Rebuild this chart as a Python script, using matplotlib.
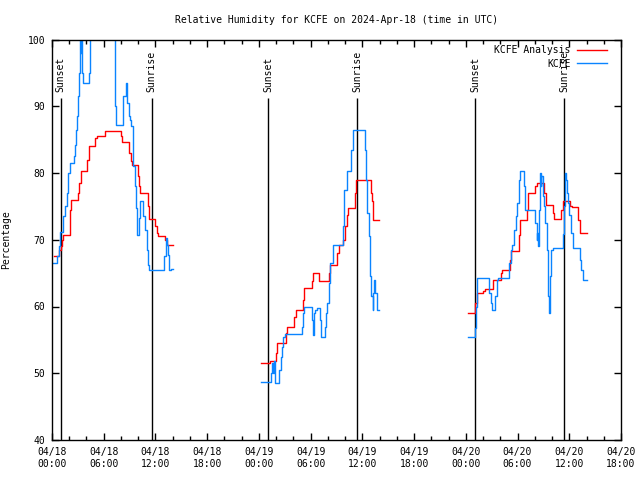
# Relative humidity for KCFE, analysis vs observations (step lines)
import numpy as np
import matplotlib
matplotlib.use('Agg')
import matplotlib.pyplot as plt
from matplotlib.ticker import MultipleLocator

plt.rcParams['font.family'] = ['DejaVu Sans Mono']
plt.rcParams['font.size'] = 7

# hours after 04/18 00:00 UTC
anal_t1 = [0.2, 0.85, 1.01, 1.16, 1.31, 2.09, 2.24, 3.02, 3.17, 3.33, 4.10, 4.25, 5.03, 5.18,
           6.15, 7.97, 8.10, 8.97, 9.13, 9.28, 10.01, 10.13, 10.25, 10.98, 11.1, 11.29,
           11.95, 12.14, 12.34, 12.9, 13.1, 13.3, 14.0]
anal_v1 = [67.6, 68.4, 69.0, 70.0, 70.75, 74.5, 76.0, 77.0, 78.5, 80.25, 82.0, 84.1, 85.25, 85.5,
           86.3, 85.5, 84.6, 83.0, 81.75, 81.25, 79.5, 78.0, 77.0, 77.0, 75.0, 73.1,
           72.0, 71.0, 70.6, 70.6, 70.0, 69.25, 69.25]
# observations above 100 run off the top of the chart
obs_t1 = [0.1, 0.62, 0.85, 0.93, 1.31, 1.51, 1.7, 1.8, 1.9, 2.09, 2.55, 2.63, 2.78, 2.86, 3.02,
          3.09, 3.25, 3.33, 3.4, 3.48, 3.56, 4.33, 4.41, 7.3, 7.45, 8.2, 8.28, 8.59, 8.74,
          8.9, 9.05, 9.2, 9.35, 9.45, 9.59, 9.71, 9.82, 9.9, 10.05, 10.21, 10.59, 10.79,
          10.98, 11.17, 11.29, 13.03, 13.19, 13.3, 13.46, 13.61, 13.77, 14.0]
obs_v1 = [66.5, 67.6, 69.0, 71.1, 73.5, 75.0, 77.0, 79.0, 80.0, 81.5, 82.5, 84.25, 86.5, 88.5, 91.5,
          95.0, 102.0, 98.0, 102.0, 95.0, 93.5, 95.0, 102.0, 90.0, 87.25, 87.25, 91.5, 93.5, 90.5,
          88.5, 88.0, 87.0, 84.0, 81.0, 78.0, 74.8, 71.5, 70.75, 73.3, 75.75, 73.5, 71.5,
          68.5, 66.25, 65.5, 67.5, 70.3, 69.25, 67.75, 65.5, 65.6, 65.6]

anal_t2 = [24.25, 25.29, 26.0, 26.14, 27.15, 27.3, 28.11, 28.3, 29.08, 29.23, 30.12, 30.32,
           31.01, 32.1, 32.25, 33.1, 33.26, 33.8, 34.0, 34.18, 34.38, 35.11, 35.27, 36.97,
           37.12, 37.28, 37.97]
anal_v2 = [51.5, 51.9, 53.0, 54.5, 56.0, 57.0, 58.5, 59.5, 61.0, 62.75, 63.75, 65.0,
           63.75, 65.0, 66.25, 68.0, 69.25, 70.0, 72.0, 73.75, 74.75, 77.0, 79.0, 77.0,
           75.75, 73.0, 73.0]
obs_t2 = [24.25, 25.37, 25.52, 25.6, 25.75, 25.9, 26.37, 26.53, 26.68, 26.84, 27.0, 28.96,
          29.08, 29.23, 30.12, 30.24, 30.34, 30.43, 30.55, 30.7, 31.09, 31.21, 31.67, 31.79,
          31.94, 32.1, 32.25, 32.56, 33.72, 33.87, 34.18, 34.72, 34.95, 36.31, 36.43, 36.58,
          36.74, 36.89, 37.05, 37.2, 37.28, 37.39, 37.51, 37.66, 37.74, 37.9, 37.97]
obs_v2 = [48.65, 50.0, 51.5, 50.0, 51.8, 48.5, 50.5, 52.5, 54.0, 55.5, 55.85, 57.0,
          59.0, 60.0, 58.0, 55.75, 58.0, 59.0, 59.5, 59.75, 58.0, 55.5, 57.0, 59.0,
          60.5, 63.5, 66.5, 69.25, 72.0, 77.5, 80.35, 83.5, 86.5, 83.5, 79.0, 74.0,
          70.5, 64.5, 61.5, 59.5, 62.0, 64.0, 62.0, 60.5, 59.5, 59.5, 59.5]

anal_t3 = [48.3, 49.07, 49.27, 49.96, 50.23, 51.12, 52.09, 52.24, 53.13, 53.25, 54.14, 54.29,
           55.07, 55.26, 56.07, 56.3, 57.11, 57.31, 58.08, 58.27, 59.09, 59.32, 60.09, 60.29,
           61.06, 61.25, 62.03]
anal_v3 = [59.0, 60.5, 62.0, 62.3, 62.6, 64.0, 65.0, 65.5, 67.0, 68.35, 70.75, 73.0,
           74.5, 77.0, 78.0, 78.5, 77.0, 75.25, 74.0, 73.15, 74.5, 75.8, 75.0, 74.85,
           73.0, 71.0, 71.0]
obs_t3 = [48.3, 49.07, 49.15, 49.27, 50.74, 50.89, 51.0, 51.43, 51.59, 51.74, 53.06, 53.21,
          53.4, 53.6, 53.83, 53.98, 54.18, 54.33, 54.76, 54.91, 56.07, 56.23, 56.3, 56.38,
          56.5, 56.61, 56.69, 56.77, 56.92, 57.08, 57.23, 57.39, 57.5, 57.62, 57.77, 57.93,
          58.16, 59.32, 59.4, 59.47, 59.59, 59.71, 59.86, 60.02, 60.21, 60.4, 61.25, 61.41,
          61.56, 62.03]
obs_v3 = [55.4, 56.75, 60.0, 64.25, 62.0, 60.5, 59.5, 61.5, 64.0, 64.25, 66.5, 68.5,
          69.25, 71.5, 73.5, 75.5, 79.0, 80.25, 78.0, 74.5, 72.5, 70.0, 71.0, 69.0,
          74.5, 80.0, 78.0, 79.5, 76.5, 75.0, 72.5, 68.5, 61.5, 59.1, 64.5, 68.5,
          68.75, 70.9, 75.0, 80.0, 79.0, 77.0, 75.5, 73.75, 71.0, 68.75, 67.0, 65.5,
          64.0, 64.0]

sun_events = ['Sunset', 'Sunrise', 'Sunset', 'Sunrise', 'Sunset', 'Sunrise']
sun_times = [1.0, 11.56, 25.1, 35.42, 49.1, 59.43]

tick_hours = list(range(0, 67, 6))
tick_labels = ['04/18\n00:00', '04/18\n06:00', '04/18\n12:00', '04/18\n18:00',
               '04/19\n00:00', '04/19\n06:00', '04/19\n12:00', '04/19\n18:00',
               '04/20\n00:00', '04/20\n06:00', '04/20\n12:00', '04/20\n18:00']

red = '#ff0000'
blue = '#0a84ff'

fig = plt.figure(figsize=(6.4, 4.8), dpi=100, facecolor='white')
ax = fig.add_axes([52/640, 40/480, 569/640, 400.5/480])

for i, (t, v) in enumerate([(anal_t1, anal_v1), (anal_t2, anal_v2), (anal_t3, anal_v3)]):
    ax.step(t, v, where='post', color=red, lw=1.0,
            label='KCFE Analysis' if i == 0 else None, zorder=3)
for i, (t, v) in enumerate([(obs_t1, obs_v1), (obs_t2, obs_v2), (obs_t3, obs_v3)]):
    ax.step(t, v, where='post', color=blue, lw=1.0,
            label='KCFE' if i == 0 else None, zorder=3)

ax.vlines(sun_times, 40, 91.2, color='black', lw=1.0, zorder=2)
for t, name in zip(sun_times, sun_events):
    ax.text(t, 92.2, name, rotation=90, ha='center', va='bottom', fontsize=7)

ax.set_xlim(0, 66)
ax.set_ylim(40, 100)
ax.set_xticks(tick_hours)
ax.set_xticklabels(tick_labels)
ax.xaxis.set_minor_locator(MultipleLocator(2))
ax.set_yticks(np.arange(40, 101, 10))
ax.tick_params(which='both', direction='in', top=True, right=True, labelsize=7)
ax.tick_params(which='major', length=5, width=1)
ax.tick_params(which='minor', length=3, width=1)
ax.tick_params(axis='x', pad=5)
ax.tick_params(axis='y', pad=5)
for s in ax.spines.values():
    s.set_linewidth(1.0)
    s.set_zorder(4)

ax.set_title('Relative Humidity for KCFE on 2024-Apr-18 (time in UTC)', fontsize=7, pad=12)
ax.set_ylabel('Percentage', fontsize=7)
ax.yaxis.set_label_coords(-0.072, 0.5)

ax.legend(loc='upper right', frameon=False, markerfirst=False, fontsize=7,
          handlelength=3.0, handletextpad=0.7, labelspacing=0.35,
          borderaxespad=0.2, bbox_to_anchor=(0.985, 1.0))

fig.savefig('out.png', dpi=100)
